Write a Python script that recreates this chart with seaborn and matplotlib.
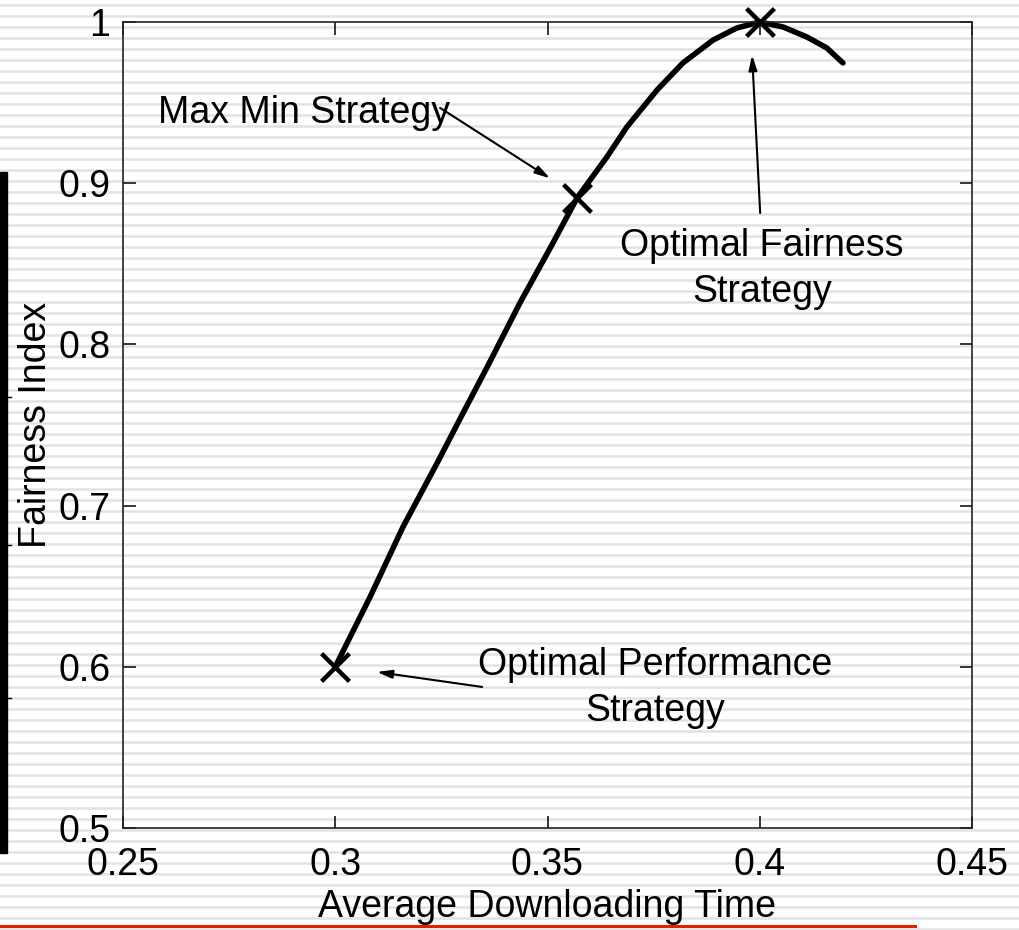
import matplotlib
matplotlib.use("Agg")
import matplotlib.pyplot as plt
import numpy as np
import pandas as pd
import seaborn as sns
from matplotlib import rcParams
from matplotlib.lines import Line2D
from matplotlib.patches import Rectangle

# curve
download_time = [0.300, 0.3082, 0.316, 0.324, 0.3301, 0.3358, 0.3435, 0.3513, 0.357,
                 0.364, 0.3687, 0.3758, 0.3819, 0.389, 0.3946, 0.400, 0.4055, 0.4111,
                 0.4158, 0.4196]
fairness = [0.600, 0.6433, 0.687, 0.7264, 0.7574, 0.786, 0.8257, 0.863, 0.891,
            0.9163, 0.9349, 0.9578, 0.9746, 0.9888, 0.9963, 1.000, 0.9969, 0.9907,
            0.9839, 0.9746]

# marked strategies
strategy_names = ["Optimal Performance\nStrategy", "Max Min Strategy", "Optimal Fairness\nStrategy"]
strategy_x = [0.300, 0.357, 0.400]
strategy_y = [0.600, 0.891, 1.000]

x_ticks = [0.25, 0.3, 0.35, 0.4, 0.45]
x_tick_labels = ["0.25", "0.3", "0.35", "0.4", "0.45"]
y_ticks = [0.5, 0.6, 0.7, 0.8, 0.9, 1.0]
y_tick_labels = ["0.5", "0.6", "0.7", "0.8", "0.9", "1"]

rcParams["font.family"] = ["Liberation Sans", "DejaVu Sans"]
FS = 27

W, H = 1019, 930
fig = plt.figure(figsize=(W / 100, H / 100), dpi=100, facecolor="white")

# slide background: thin grey stripes
for yy in np.arange(5, H, 11):
    fig.add_artist(Line2D([0, 1], [1 - yy / H, 1 - yy / H], transform=fig.transFigure,
                          color="#e2e2e2", lw=1.8, zorder=-10))
# left black bar and red underline of the slide
fig.add_artist(Rectangle((0, 1 - 853 / H), 7 / W, (853 - 172) / H, transform=fig.transFigure,
                         color="black", zorder=-5))
for yy in [397, 545, 698]:
    fig.add_artist(Line2D([7 / W, 11 / W], [1 - yy / H, 1 - yy / H], transform=fig.transFigure,
                          color="black", lw=1.0, zorder=-5))
fig.add_artist(Line2D([0, 915 / W], [1 - 926 / H, 1 - 926 / H], transform=fig.transFigure,
                      color="#e02000", lw=2.2, zorder=-5))

ax = fig.add_axes([123 / W, 1 - 828 / H, (972 - 123) / W, (828 - 22) / H])
ax.patch.set_alpha(0)

df = pd.DataFrame({"time": download_time, "fairness": fairness})
sns.lineplot(data=df, x="time", y="fairness", sort=False, estimator=None,
             color="black", lw=4.0, ax=ax, clip_on=False)
ax.lines[-1].set_solid_capstyle("round")
ax.lines[-1].set_solid_joinstyle("round")

pts = pd.DataFrame({"time": strategy_x, "fairness": strategy_y})
sns.scatterplot(data=pts, x="time", y="fairness", marker="x", s=400, color="black",
                linewidth=3.2, ax=ax, zorder=5, clip_on=False)

ax.set_xlim(0.25, 0.45)
ax.set_ylim(0.5, 1.0)
ax.set_xticks(x_ticks, x_tick_labels)
ax.set_yticks(y_ticks, y_tick_labels)
ax.tick_params(direction="in", length=9, width=1.1, top=True, right=True,
               labelsize=FS, color="black")
ax.tick_params(axis="x", pad=14)
ax.tick_params(axis="y", pad=9)
for s in ax.spines.values():
    s.set_linewidth(1.2)
    s.set_color("#222222")

ax.set_xlabel("Average Downloading Time", fontsize=FS)
ax.xaxis.set_label_coords(0.5, -0.098)
ax.xaxis.label.set_va("center")
ax.set_ylabel("Fairness Index", fontsize=FS)
ax.yaxis.set_label_coords(-0.1025, 0.5)
ax.yaxis.label.set_va("center")

arrow = dict(arrowstyle="-|>,head_length=0.9,head_width=0.25", color="black", lw=1.5,
             shrinkA=0, shrinkB=0)
# Max Min
ax.annotate("", xy=(0.3506, 0.903), xytext=(0.3247, 0.9467), arrowprops=arrow)
ax.text(0.2582, 0.9435, strategy_names[1], fontsize=FS, ha="left", va="center")
# Optimal fairness
ax.annotate("", xy=(0.3982, 0.9795), xytext=(0.4001, 0.8815), arrowprops=arrow)
ax.text(0.4005, 0.8468, strategy_names[2], fontsize=FS, ha="center", va="center",
        multialignment="center", linespacing=1.38)
# Optimal performance
ax.annotate("", xy=(0.3098, 0.5968), xytext=(0.3346, 0.5875), arrowprops=arrow)
ax.text(0.3753, 0.5868, strategy_names[0], fontsize=FS, ha="center", va="center",
        multialignment="center", linespacing=1.38)

fig.savefig("out.png", dpi=100, facecolor="white")
